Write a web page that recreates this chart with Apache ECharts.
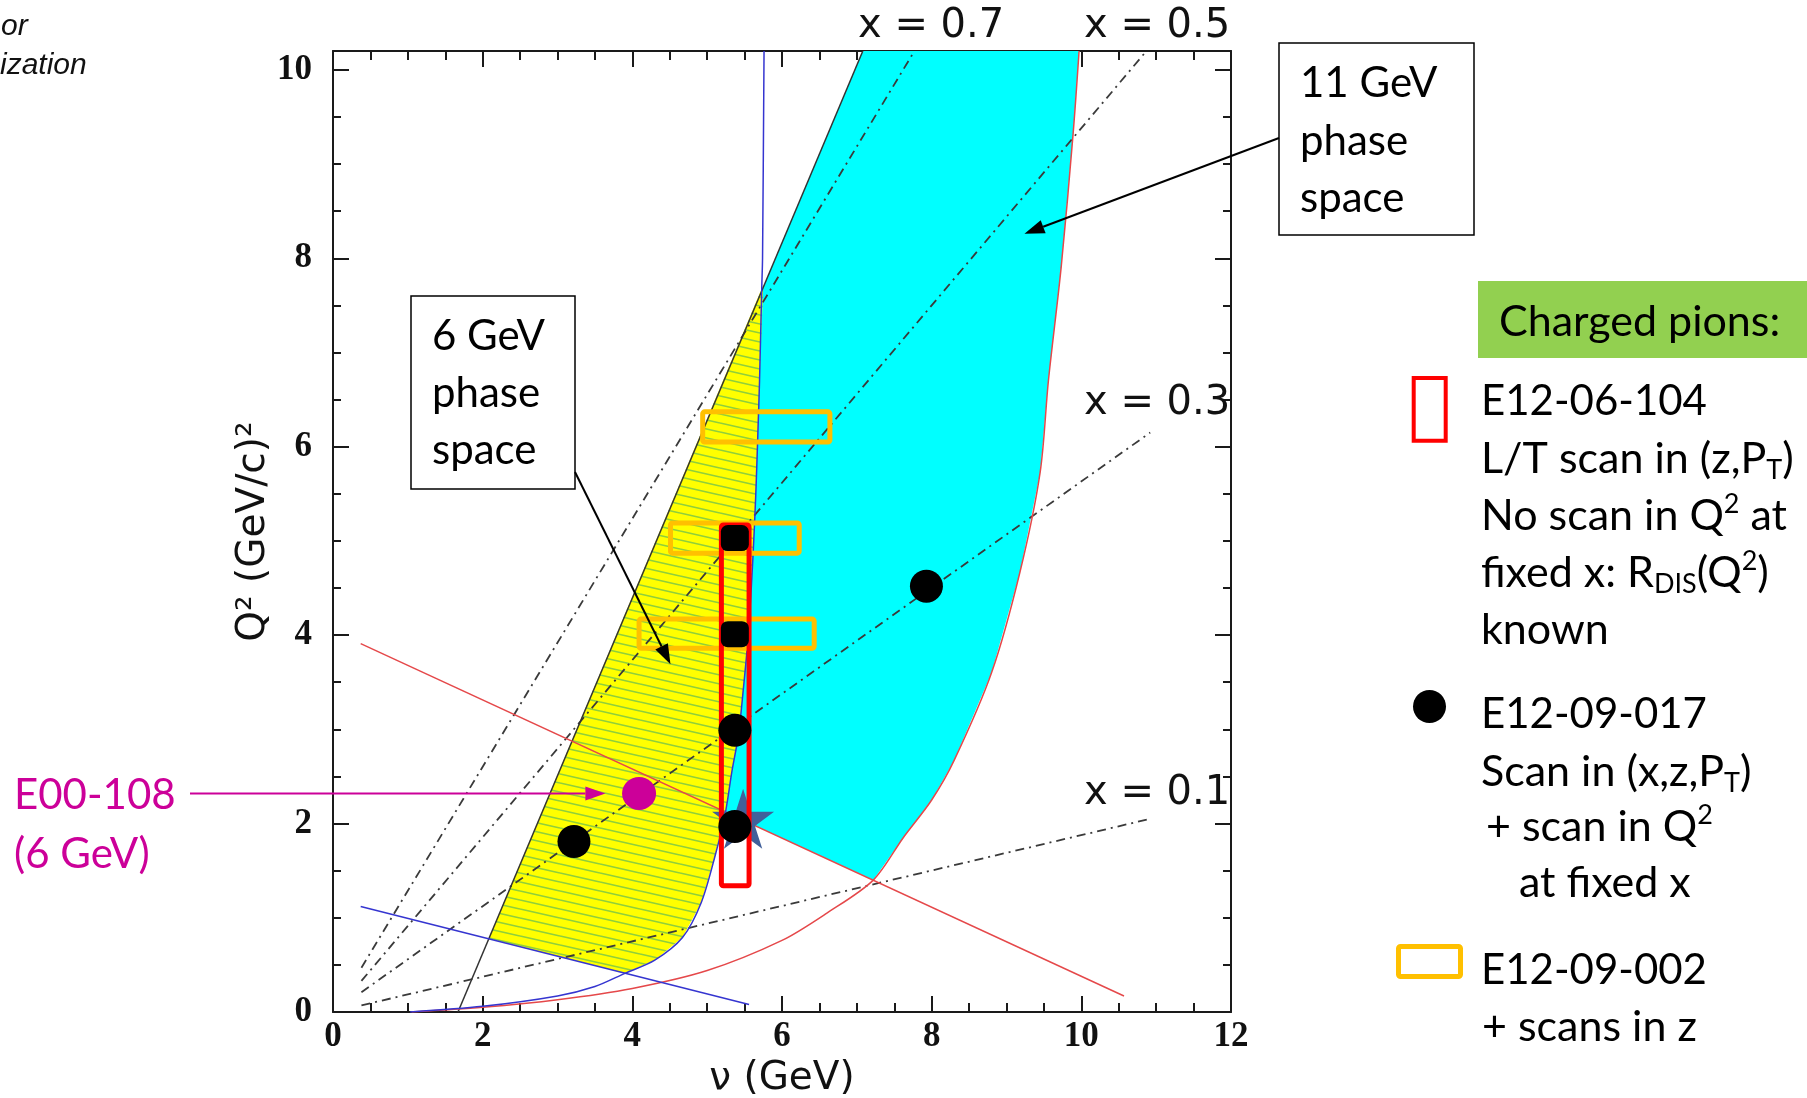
<!DOCTYPE html>
<html><head><meta charset="utf-8">
<script src="https://cdn.jsdelivr.net/npm/echarts@6/dist/echarts.min.js"></script>
<style>html,body{margin:0;padding:0;background:#fff;}#c{width:1807px;height:1098px;}</style>
</head><body><div id="c"></div>
<script>
// ---------------- data (nu in GeV, Q^2 in GeV^2) ----------------
const xTickValues = [0, 2, 4, 6, 8, 10, 12];
const yTickValues = [0, 2, 4, 6, 8, 10];
const xAxisTitle = 'ν (GeV)';
const yAxisTitle = 'Q² (GeV/c)²';

// 11 GeV phase space (cyan) boundary
const region11GeV = [[7.08,10.2],[3.19,2.87],[7.22,1.40],[7.62,1.85],[8.0,2.25],[8.3,2.67],[8.8,3.6],[9.18,4.67],[9.45,5.73],[9.56,6.7],[9.73,7.9],[9.89,9.32],[9.97,10.2]];
// 6 GeV phase space (yellow, hatched) boundary
const region6GeV = [[2.08,0.78],[5.75,7.72],[5.70,6.7],[5.68,6.2],[5.65,5.5],[5.61,4.8],[5.55,4.0],[5.48,3.4],[5.42,2.95],[5.33,2.55],[5.24,2.1],[5.10,1.64],[4.92,1.16],[4.67,0.79],[4.30,0.55],[3.90,0.41]];

// boundary lines and curves
const lineThetaMin = [[1.67,0],[7.08,10.2]];
const line11GeVLow = [[0.37,3.91],[10.57,0.17]];
const curve11GeV = [[1.05,0],[2.0,0.05],[3.0,0.13],[4.0,0.25],[5.0,0.44],[6.0,0.76],[6.6,1.05],[7.22,1.40],[7.62,1.85],[8.0,2.25],[8.3,2.67],[8.8,3.6],[9.18,4.67],[9.45,5.73],[9.56,6.7],[9.73,7.9],[9.89,9.32],[9.97,10.2]];
const line6GeVLow = [[0.37,1.12],[5.56,0.08]];
const curve6GeV = [[5.76,10.2],[5.74,8.0],[5.73,7.7],[5.70,6.7],[5.68,6.2],[5.65,5.5],[5.61,4.8],[5.55,4.0],[5.48,3.4],[5.42,2.95],[5.33,2.55],[5.24,2.1],[5.10,1.64],[4.92,1.16],[4.67,0.79],[4.30,0.55],[3.90,0.41],[3.50,0.27],[3.0,0.17],[2.0,0.06],[1.03,0]];

// constant-x lines
const xLineLabels = ['x = 0.7','x = 0.5','x = 0.3','x = 0.1'];
const xLine07 = [[0.38,0.47],[7.77,10.2]];
const xLine05 = [[0.38,0.33],[10.87,10.2]];
const xLine03 = [[0.38,0.21],[10.92,6.15]];
const xLine01 = [[0.38,0.07],[10.92,2.05]];

// experiments
const e12_09_017 = [[3.22,1.81],[5.37,2.99],[5.37,1.97],[7.93,4.52]];
const e12_09_017Sq = [[5.37,5.03],[5.37,4.01]];
const e00_108 = [[4.09,2.32]];
const starPoint = [[5.48,2.05]];
// [nuMin, nuMax, Q2min, Q2max]
const e12_06_104 = [[5.19,5.56,1.34,5.17]];
const e12_09_002 = [[4.94,6.64,6.05,6.37],[4.51,6.23,4.87,5.19],[4.09,6.43,3.86,4.17]];

// annotation arrow tips (data coords)
const arrow11Tip = [9.24,8.26];
const arrow6Tip = [4.51,3.69];
const arrowE00Tip = [3.64,2.32];

// ---------------- chart ----------------
const chart = echarts.init(document.getElementById('c'), null, {renderer:'canvas', width:1807, height:1098});

const hatch = document.createElement('canvas');
hatch.width = 40; hatch.height = 9;
(function(){
  const g = hatch.getContext('2d');
  g.fillStyle = '#ffff00'; g.fillRect(0,0,40,9);
  g.strokeStyle = '#8fcf3c'; g.lineWidth = 1.6;
  [-9,0,9].forEach(k => { g.beginPath(); g.moveTo(0,k); g.lineTo(40,k+9); g.stroke(); });
})();

const AX = '#1a1a1a';
const tickLabel = {fontFamily:'Liberation Serif', fontWeight:'bold', fontSize:35, color:'#111'};

function xAxisDef(pos, labels){
  return {type:'value', min:0, max:12, interval:2, position:pos, gridIndex:0,
    axisLine:{show:true, onZero:false, lineStyle:{color:AX, width:2}},
    axisTick:{show:true, inside:true, length:16, lineStyle:{color:AX, width:2}},
    minorTick:{show:true, splitNumber:4, length:9, lineStyle:{color:AX, width:2}},
    splitLine:{show:false}, minorSplitLine:{show:false},
    axisLabel:Object.assign({show:labels, margin:7, formatter:v=>String(v)}, tickLabel),
    name: labels ? xAxisTitle : '', nameLocation:'middle', nameGap:40,
    nameTextStyle:{fontFamily:'DejaVu Sans', fontSize:39, color:'#111'}};
}
function yAxisDef(pos, interval, len, labels, line){
  return {type:'value', min:0, max:10.2, interval:interval, position:pos, gridIndex:0, offset:0,
    axisLine:{show:line, onZero:false, lineStyle:{color:AX, width:2}},
    axisTick:{show:true, inside:true, length:len, lineStyle:{color:AX, width:2}},
    splitLine:{show:false},
    axisLabel:Object.assign({show:labels, margin:21, showMaxLabel:false, formatter:v=>String(v)}, tickLabel),
    name: labels ? yAxisTitle : '', nameLocation:'middle', nameGap:54, nameRotate:90,
    nameTextStyle:{fontFamily:'DejaVu Sans', fontSize:39, color:'#111'}};
}

function lineS(name, data, color, width, type, smooth, z){
  return {type:'line', name, data, symbol:'none', showSymbol:false, smooth:smooth||false,
    lineStyle:{color, width, type:type||'solid'}, silent:true, z:z||3, clip:true};
}
function regionS(name, pts, fill, z){
  return {type:'custom', name, data:[0], clip:true, silent:true, z,
    renderItem:(p, api)=>({type:'polygon', shape:{points:pts.map(q=>api.coord(q))}, style:{fill, stroke:null}})};
}
function boxS(name, data, color, z){
  return {type:'custom', name, data, encode:{x:[0,1], y:[2,3]}, clip:false, silent:true, z,
    renderItem:(p, api)=>{
      const a = api.coord([api.value(0), api.value(3)]);
      const b = api.coord([api.value(1), api.value(2)]);
      return {type:'rect', shape:{x:a[0], y:a[1], width:b[0]-a[0], height:b[1]-a[1], r:2},
        style:{fill:null, stroke:color, lineWidth:5}};
    }};
}
const DASHDOT = [9,5,2,5];
const STAR = 'path://M50 0 L61.23 34.55 L97.55 34.55 L68.17 55.9 L79.39 90.45 L50 69.1 L20.61 90.45 L31.83 55.9 L2.45 34.55 L38.77 34.55 Z';

const option = {
  animation:false,
  backgroundColor:'#ffffff',
  grid:{left:333, top:51, width:898, height:961, containLabel:false, outerBoundsMode:'none'},
  xAxis:[xAxisDef('bottom', true), xAxisDef('top', false)],
  yAxis:[yAxisDef('left',2,16,true,true), yAxisDef('left',0.5,8,false,false),
         yAxisDef('right',2,16,false,true), yAxisDef('right',0.5,8,false,false)],
  series:[
    regionS('11 GeV phase space', region11GeV, '#00ffff', 1),
    regionS('6 GeV phase space', region6GeV, {image:hatch, repeat:'repeat'}, 2),
    lineS('x=0.7', xLine07, '#3a3a3a', 1.8, DASHDOT, false, 3),
    lineS('x=0.5', xLine05, '#3a3a3a', 1.8, DASHDOT, false, 3),
    lineS('x=0.3', xLine03, '#3a3a3a', 1.8, DASHDOT, false, 3),
    lineS('x=0.1', xLine01, '#3a3a3a', 1.8, DASHDOT, false, 3),
    lineS('theta min', lineThetaMin, '#333333', 1.5, 'solid', false, 4),
    lineS('11 GeV low', line11GeVLow, '#e5484a', 1.5, 'solid', false, 4),
    lineS('11 GeV curve', curve11GeV, '#e5484a', 1.5, 'solid', 0.3, 4),
    lineS('6 GeV low', line6GeVLow, '#3535d0', 1.5, 'solid', false, 4),
    lineS('6 GeV curve', curve6GeV, '#3535d0', 1.5, 'solid', 0.3, 4),
    {type:'scatter', name:'star', data:starPoint, symbol:STAR, symbolSize:[62,60], itemStyle:{color:'#41609a', opacity:1}, silent:true, z:5},
    boxS('E12-09-002', e12_09_002, '#ffc000', 6),
    boxS('E12-06-104', e12_06_104, '#ff0000', 7),
    {type:'scatter', name:'E12-09-017', data:e12_09_017, symbol:'circle', symbolSize:33, itemStyle:{color:'#000', opacity:1}, silent:true, z:9},
    {type:'scatter', name:'E12-09-017 ', data:e12_09_017Sq, symbol:'roundRect', symbolSize:[28,26], itemStyle:{color:'#000', opacity:1}, silent:true, z:9},
    {type:'scatter', name:'E00-108', data:e00_108, symbol:'circle', symbolSize:[34,33], itemStyle:{color:'#cc0099', opacity:1}, silent:true, z:9}
  ]
};
chart.setOption(option);

// ---------------- annotations ----------------
const ANN = 'Lato';
const ANN_SIZE = 42;
const rich = {
  sub:{fontFamily:ANN, fontSize:27, lineHeight:32, verticalAlign:'bottom', fill:'#000', color:'#000'},
  sup:{fontFamily:ANN, fontSize:27, lineHeight:30, verticalAlign:'top', fill:'#000', color:'#000'}
};
function T(x, y, text, opt){
  opt = opt || {};
  const size = opt.size || ANN_SIZE, fam = opt.family || ANN, col = opt.color || '#000';
  return {type:'text', x, y, z:100, rotation:opt.rotation||0, silent:true,
    style:{text, font:(opt.style||'')+' '+size+'px "'+fam+'"', fill:col, lineHeight:opt.lh||50,
      align:opt.align||'left', verticalAlign:'middle', textAlign:opt.align||'left', textVerticalAlign:'middle', rich}};
}
function R(x, y, w, h, style){ return {type:'rect', z:99, silent:true, shape:{x, y, width:w, height:h, r:(style.r||0)}, style}; }
function arrow(x0, y0, x1, y1, color, w){
  const dx = x1-x0, dy = y1-y0, L = Math.hypot(dx,dy), ux = dx/L, uy = dy/L;
  const hl = 20, hw = 7;
  const bx = x1-ux*hl, by = y1-uy*hl;
  return [
    {type:'line', z:101, silent:true, shape:{x1:x0, y1:y0, x2:bx, y2:by}, style:{stroke:color, lineWidth:w}},
    {type:'polygon', z:101, silent:true, shape:{points:[[x1,y1],[bx-uy*hw, by+ux*hw],[bx+uy*hw, by-ux*hw]]}, style:{fill:color}}
  ];
}
const px = p => chart.convertToPixel({xAxisIndex:0, yAxisIndex:0}, p);
const t11 = px(arrow11Tip), t6 = px(arrow6Tip), tE = px(arrowE00Tip);

const els = [
  T(1, 27, 'or', {size:30, family:'Liberation Sans', style:'italic', color:'#111'}),
  T(0, 66, 'ization', {size:30, family:'Liberation Sans', style:'italic', color:'#111'}),
  // x labels
  T(858, 27, xLineLabels[0], {size:40, family:'DejaVu Sans', color:'#111'}),
  T(1084, 27, xLineLabels[1], {size:40, family:'DejaVu Sans', color:'#111'}),
  T(1084, 404, xLineLabels[2], {size:40, family:'DejaVu Sans', color:'#111'}),
  T(1084, 794, xLineLabels[3], {size:40, family:'DejaVu Sans', color:'#111'}),
  // 6 GeV box
  R(411, 296, 164, 193, {fill:'#fff', stroke:'#000', lineWidth:1.5}),
  T(432, 336, '6 GeV'), T(432, 393, 'phase'), T(432, 450, 'space'),
  // 11 GeV box
  R(1279, 43, 195, 192, {fill:'#fff', stroke:'#000', lineWidth:1.5}),
  T(1300, 83, '11 GeV'), T(1300, 141, 'phase'), T(1300, 198, 'space'),
  // E00-108
  T(14, 795, 'E00-108', {color:'#cc0099'}), T(14, 854, '(6 GeV)', {color:'#cc0099'}),
  // legend
  R(1478, 281, 329, 77, {fill:'#92d050', stroke:null}),
  T(1499, 322, 'Charged pions:', {size:43}),
  R(1413.7, 378, 32, 62.7, {fill:null, stroke:'#ff0000', lineWidth:4}),
  T(1481, 401, 'E12-06-104'),
  T(1481, 459, 'L/T scan in (z,P{sub|T})', {size:43}),
  T(1481, 516, 'No scan in Q{sup|2} at', {size:43}),
  T(1481, 573, 'fixed x: R{sub|DIS}(Q{sup|2})', {size:43}),
  T(1481, 630, 'known', {size:43}),
  {type:'circle', z:99, silent:true, shape:{cx:1429.5, cy:706.5, r:16.5}, style:{fill:'#000'}},
  T(1481, 714, 'E12-09-017'),
  T(1481, 772, 'Scan in (x,z,P{sub|T})', {size:43}),
  T(1486, 827, '+ scan in Q{sup|2}', {size:43}),
  T(1519, 883, 'at fixed x', {size:43}),
  R(1398.5, 946.5, 62, 30, {fill:null, stroke:'#ffc000', lineWidth:5, r:2}),
  T(1481, 970, 'E12-09-002'),
  T(1482, 1027, '+ scans in z', {size:43})
].concat(
  arrow(1279, 138, t11[0], t11[1], '#000', 2),
  arrow(575, 472, t6[0], t6[1], '#000', 2),
  arrow(190, tE[1], tE[0], tE[1], '#cc0099', 2)
);
chart.setOption({graphic:{elements:els}});
</script>
</body></html>
